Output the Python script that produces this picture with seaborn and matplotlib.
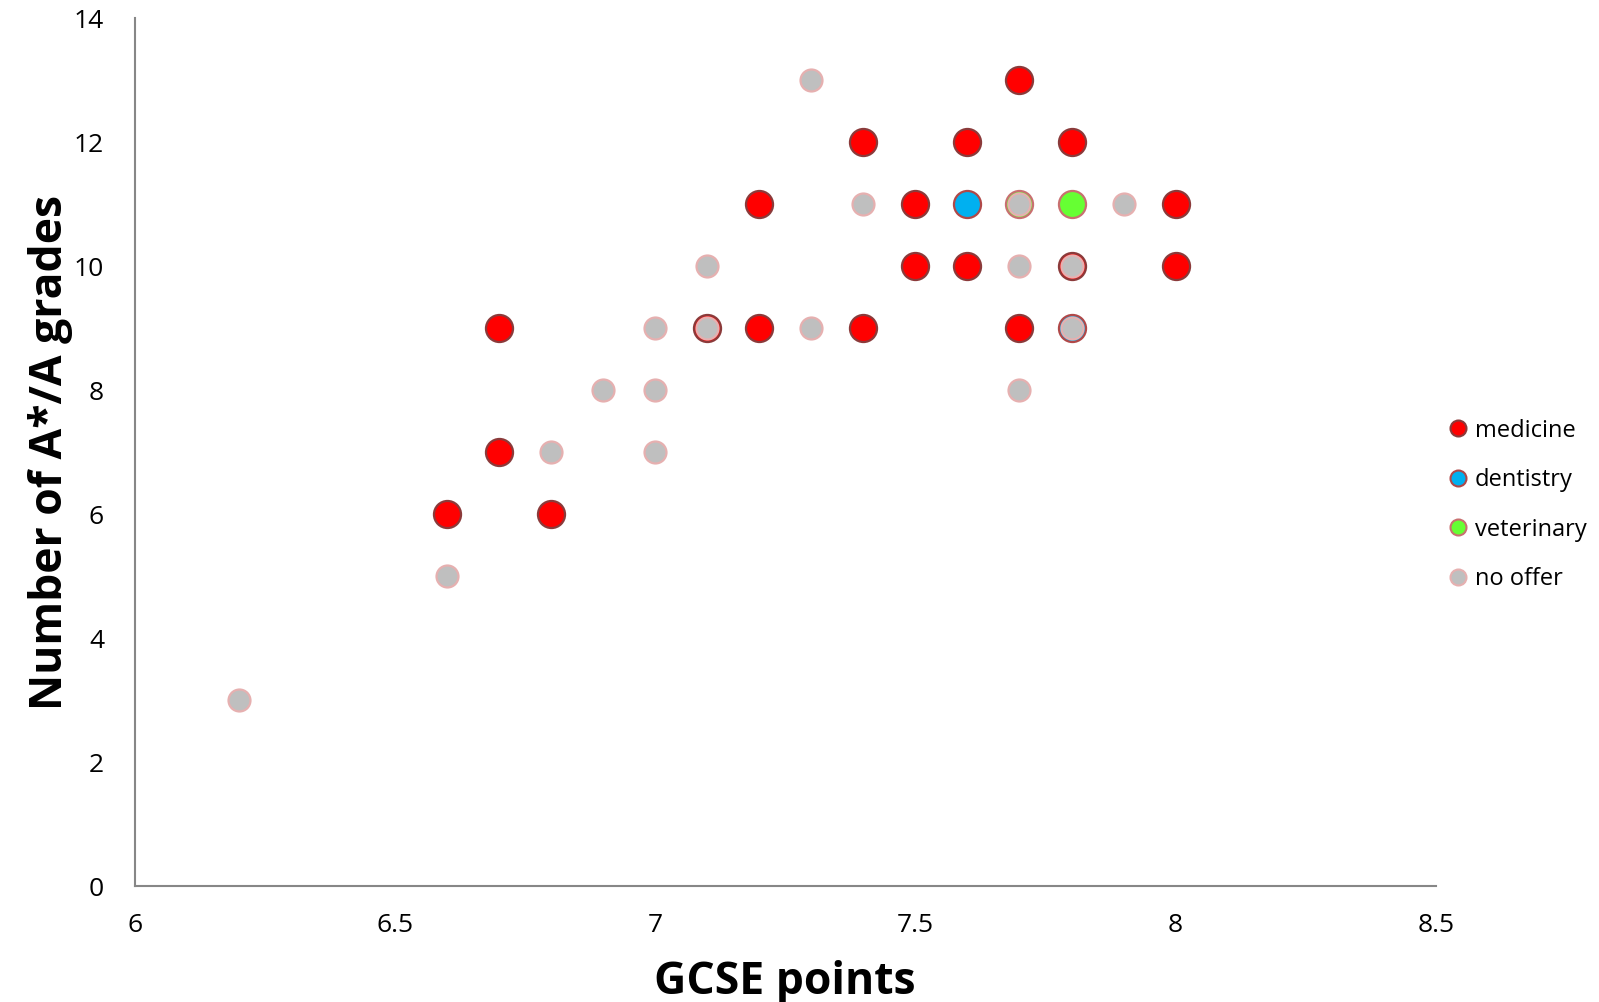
import matplotlib
matplotlib.use("Agg")
import matplotlib.pyplot as plt
from matplotlib.lines import Line2D
import seaborn as sns
import pandas as pd

# ---- data ----
medicine_x = [6.6, 6.7, 6.7, 6.8, 7.1, 7.2, 7.2, 7.4, 7.4, 7.5, 7.5, 7.6, 7.6, 7.7, 7.7, 7.8, 7.8, 8.0, 8.0]
medicine_y = [6, 9, 7, 6, 9, 11, 9, 12, 9, 11, 10, 12, 10, 13, 9, 12, 10, 11, 10]
dentistry_x = [7.6, 7.8]
dentistry_y = [11, 9]
veterinary_x = [7.8, 7.7]
veterinary_y = [11, 11]
nooffer_x = [6.2, 6.6, 6.8, 6.9, 7.0, 7.0, 7.0, 7.1, 7.1, 7.3, 7.3, 7.4, 7.7, 7.7, 7.7, 7.8, 7.8, 7.9]
nooffer_y = [3, 5, 7, 8, 9, 8, 7, 10, 9, 13, 9, 11, 11, 10, 8, 10, 9, 11]

categories = ["medicine", "dentistry", "veterinary", "no offer"]
x_ticks = [6, 6.5, 7, 7.5, 8, 8.5]
x_tick_labels = ["6", "6.5", "7", "7.5", "8", "8.5"]
y_ticks = [0, 2, 4, 6, 8, 10, 12, 14]

series = {
    "medicine": (medicine_x, medicine_y),
    "dentistry": (dentistry_x, dentistry_y),
    "veterinary": (veterinary_x, veterinary_y),
    "no offer": (nooffer_x, nooffer_y),
}
styles = {
    "medicine": dict(face="#FF0000", edge="#8B3A3A", s=380, lw=1.6),
    "dentistry": dict(face="#00B0F0", edge="#B04848", s=380, lw=1.6),
    "veterinary": dict(face="#66FF33", edge="#C87070", s=380, lw=1.6),
    "no offer": dict(face="#BFBFBF", edge="#E6B0B0", s=250, lw=1.6),
}

sns.set_style("white")
plt.rcParams["font.family"] = ["Open Sans", "DejaVu Sans"]
plt.rcParams["text.color"] = "black"
plt.rcParams["axes.labelcolor"] = "black"

fig = plt.figure(figsize=(15.99, 10.02), dpi=100)
ax = fig.add_axes([0.0842, 0.1156, 0.898 - 0.0842, 0.9816 - 0.1156])

rows = []
for cat in categories:
    xs, ys = series[cat]
    for xv, yv in zip(xs, ys):
        rows.append({"x": xv, "y": yv, "cat": cat})
df = pd.DataFrame(rows)

for cat in categories:
    st = styles[cat]
    sub = df[df["cat"] == cat]
    sns.scatterplot(data=sub, x="x", y="y", ax=ax, color=st["face"], edgecolor=st["edge"],
                    s=st["s"], linewidth=st["lw"], legend=False, zorder=3)

ax.set_xlim(6, 8.5)
ax.set_ylim(0, 14)
ax.set_xticks(x_ticks)
ax.set_xticklabels(x_tick_labels)
ax.set_yticks(y_ticks)
for sp in ["top", "right"]:
    ax.spines[sp].set_visible(False)
for sp in ["left", "bottom"]:
    ax.spines[sp].set_color("#878787")
    ax.spines[sp].set_linewidth(1.5)
ax.tick_params(axis="both", direction="out", length=7, width=1.3, color="#878787",
               labelsize=19, labelcolor="black")
ax.tick_params(axis="x", pad=12)
ax.tick_params(axis="y", pad=15)

ax.set_xlabel("GCSE points", fontsize=32, fontweight="bold")
ax.set_ylabel("Number of A*/A grades", fontsize=32, fontweight="bold")
ax.xaxis.set_label_coords(0.5, -0.085)
ax.yaxis.set_label_coords(-0.0476, 0.5)

handles = []
for cat in categories:
    st = styles[cat]
    handles.append(Line2D([0], [0], marker="o", linestyle="none", markersize=11.5,
                          markerfacecolor=st["face"], markeredgecolor=st["edge"],
                          markeredgewidth=1.5, label=cat))
fig.legend(handles=handles, loc="center left", bbox_to_anchor=(0.8897, 0.496),
           frameon=False, fontsize=17, handletextpad=0.1, labelspacing=1.08,
           handlelength=1.2)

fig.savefig("out.png", dpi=100)
